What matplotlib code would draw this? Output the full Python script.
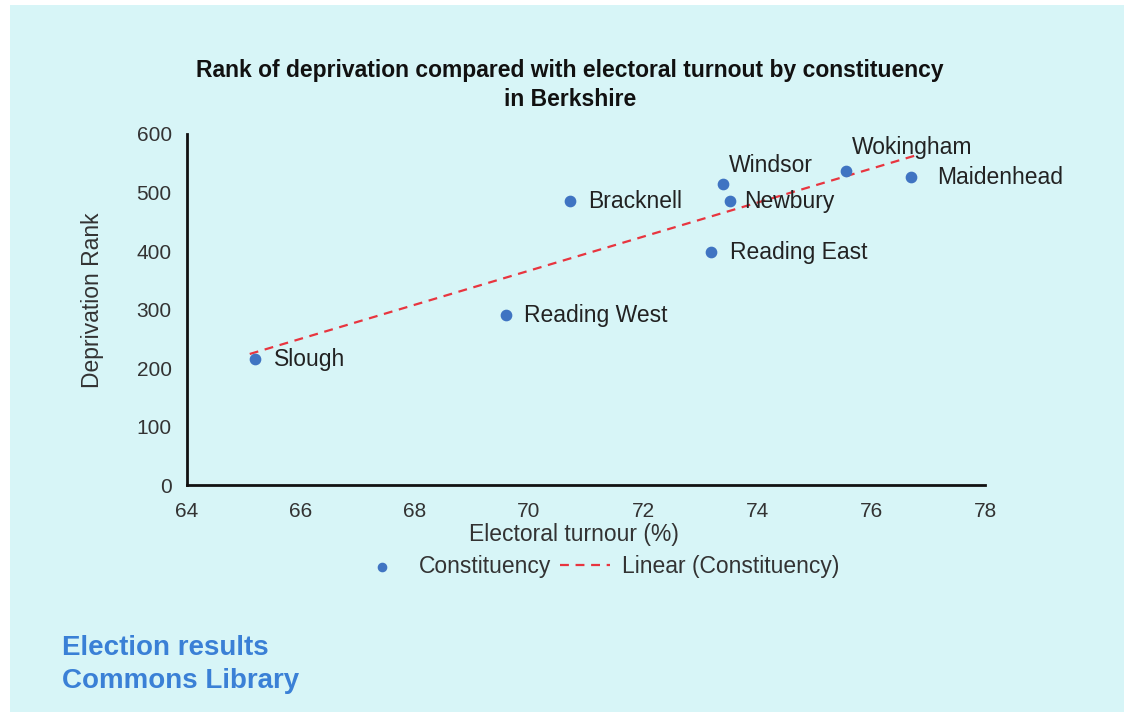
import numpy as np
import matplotlib.pyplot as plt
from matplotlib.patches import Rectangle

plt.rcParams['font.family'] = ['Liberation Sans', 'DejaVu Sans']

# data
names = ["Slough", "Reading West", "Bracknell", "Windsor", "Newbury",
         "Reading East", "Wokingham", "Maidenhead"]
turnout = [65.2, 69.6, 70.72, 73.4, 73.53, 73.2, 75.56, 76.7]
rank = [215, 290, 485, 515, 485, 398, 537, 526]

bg = "#d7f5f7"
dot_col = "#3f74c2"
line_col = "#e8353f"

fig = plt.figure(figsize=(11.24, 7.12), dpi=100)
fig.patch.set_facecolor("white")
fig.patches.append(Rectangle((10 / 1124, 0), 1, 1 - 5 / 712, transform=fig.transFigure,
                             facecolor=bg, edgecolor="none", zorder=-10))

ax = fig.add_axes([0.1664, 0.3188, 0.7100, 0.4930])
ax.set_facecolor(bg)
ax.patch.set_alpha(0)

ax.scatter(turnout, rank, s=55, color=dot_col, zorder=3, label="Constituency")

# linear trend line
k, b = np.polyfit(turnout, rank, 1)
xs = np.array([min(turnout) - 0.1, max(turnout) + 0.1])
ax.plot(xs, k * xs + b, color=line_col, linestyle=(0, (4, 3)), linewidth=1.6,
        label="Linear (Constituency)", zorder=2)

# point labels
offsets = {"Windsor": (4, 13), "Wokingham": (4, 17), "Newbury": (10, 0),
           "Maidenhead": (19, 0)}
for n, x, y in zip(names, turnout, rank):
    dx, dy = offsets.get(n, (13, 0))
    ax.annotate(n, (x, y), xytext=(dx, dy), textcoords="offset points",
                ha="left", va="center", fontsize=16.5, color="#222222")

ax.set_xlim(64, 78)
ax.set_ylim(0, 600)
ax.set_xticks(range(64, 79, 2))
ax.set_yticks(range(0, 601, 100))
ax.tick_params(length=0, labelsize=15, labelcolor="#333333")
ax.tick_params(axis="y", pad=11)
ax.tick_params(axis="x", pad=12)
for s in ["top", "right"]:
    ax.spines[s].set_visible(False)
for s in ["left", "bottom"]:
    ax.spines[s].set_linewidth(2)
    ax.spines[s].set_color("#111111")

ax.set_xlabel("Electoral turnour (%)", fontsize=16.5, color="#333333")
ax.set_ylabel("Deprivation Rank", fontsize=16.5, color="#333333")
ax.xaxis.set_label_coords(0.485, -0.108)
ax.yaxis.set_label_coords(-0.104, 0.527)

fig.text(0.507, 1 - 70 / 712, "Rank of deprivation compared with electoral turnout by constituency",
         ha="center", va="center", fontsize=16.5, fontweight="bold", color="#111111")
fig.text(0.507, 1 - 99 / 712, "in Berkshire",
         ha="center", va="center", fontsize=16.5, fontweight="bold", color="#111111")

fig.legend(loc="center", bbox_to_anchor=(0.532, 1 - 567 / 712), ncol=2, frameon=False,
           fontsize=16.5, handlelength=2.2, columnspacing=0.4, handletextpad=0.5,
           labelcolor="#333333", markerscale=0.8)

fig.text(62 / 1124, 1 - 648 / 712, "Election results", ha="left", va="center",
         fontsize=20, fontweight="bold", color="#3a80d6")
fig.text(62 / 1124, 1 - 681 / 712, "Commons Library", ha="left", va="center",
         fontsize=20, fontweight="bold", color="#3a80d6")

fig.savefig("out.png", dpi=100, facecolor=fig.get_facecolor())
